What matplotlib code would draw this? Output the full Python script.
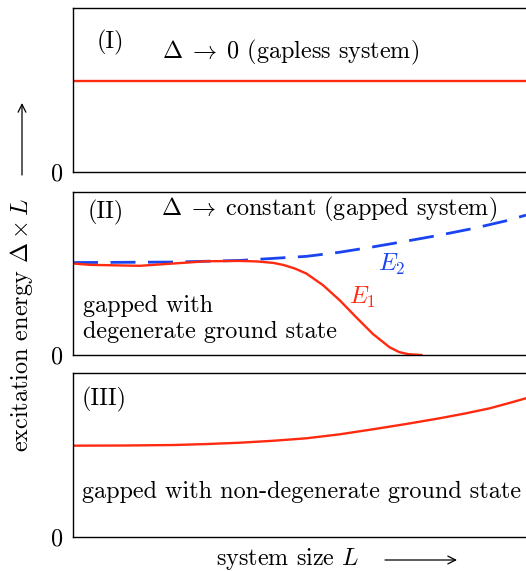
import matplotlib
matplotlib.use("Agg")
import matplotlib.pyplot as plt

plt.rcParams['font.family'] = 'serif'
plt.rcParams['font.serif'] = ['cmr10']
plt.rcParams['mathtext.fontset'] = 'cm'
plt.rcParams['axes.unicode_minus'] = False

# panel I: gapless, flat line
gapless_x = [0.0, 1.0]
gapless_y = [0.555, 0.555]

# panel II: E1 (drops to zero) and E2 (dashed, rises)
e1_x = [0.0, 0.037, 0.074, 0.147, 0.221, 0.294, 0.368, 0.405, 0.442, 0.465, 0.490, 0.515,
        0.552, 0.589, 0.625, 0.662, 0.699, 0.720, 0.740, 0.769]
e1_y = [0.561, 0.553, 0.551, 0.547, 0.561, 0.575, 0.577, 0.574, 0.565, 0.552, 0.530, 0.500,
        0.428, 0.335, 0.232, 0.129, 0.047, 0.018, 0.005, 0.0]
e2_x = [0.0, 0.221, 0.368, 0.515, 0.588, 0.662, 0.735, 0.809, 0.883, 0.956, 1.0]
e2_y = [0.567, 0.570, 0.580, 0.605, 0.630, 0.663, 0.698, 0.735, 0.776, 0.823, 0.858]

# panel III: non-degenerate gapped
nd_x = [0.0, 0.11, 0.221, 0.295, 0.368, 0.442, 0.515, 0.588, 0.662, 0.735, 0.809, 0.865, 0.920, 0.96, 1.0]
nd_y = [0.557, 0.558, 0.561, 0.567, 0.575, 0.587, 0.602, 0.626, 0.657, 0.689, 0.724, 0.753, 0.785, 0.815, 0.846]

red = '#ff2a10'
blue = '#1a44f0'
fs = 17.4

fig = plt.figure(figsize=(5.26, 5.71), dpi=100)
left, width = 73 / 526, 453 / 526
boxes = [(0.6988, 0.2872), (0.3783, 0.2855), (0.0595, 0.2872)]
axes = []
for b, h in boxes:
    ax = fig.add_axes([left, b, width, h])
    ax.set_xlim(0, 1)
    ax.set_ylim(0, 1)
    ax.set_xticks([])
    ax.set_yticks([0])
    ax.set_yticklabels(['0'], fontsize=fs)
    ax.tick_params(axis='y', length=0, pad=7)
    ax.spines['right'].set_visible(False)
    for s in ax.spines.values():
        s.set_linewidth(1.0)
    axes.append(ax)

ax1, ax2, ax3 = axes

ax1.plot(gapless_x, gapless_y, color=red, lw=1.7)
ax1.text(0.053, 0.79, '(I)', fontsize=fs, va='center', transform=ax1.transAxes)
ax1.text(0.197, 0.726, r'$\Delta \;\rightarrow\; 0$ (gapless system)', fontsize=fs, va='center',
         transform=ax1.transAxes)

ax2.plot(e2_x, e2_y, color=blue, lw=2.0, dashes=(9, 4.5))
ax2.plot(e1_x, e1_y, color=red, lw=1.7)
ax2.text(0.033, 0.877, '(II)', fontsize=fs, va='center', transform=ax2.transAxes)
ax2.text(0.195, 0.89, r'$\Delta \;\rightarrow\;$constant (gapped system)', fontsize=fs, va='center',
         transform=ax2.transAxes)
ax2.text(0.704, 0.558, r'$E_2$', fontsize=fs, color=blue, ha='center', va='center',
         transform=ax2.transAxes)
ax2.text(0.638, 0.35, r'$E_1$', fontsize=fs, color=red, ha='center', va='center',
         transform=ax2.transAxes)
ax2.text(0.022, 0.30, 'gapped with', fontsize=fs, va='center', transform=ax2.transAxes)
ax2.text(0.022, 0.141, 'degenerate ground state', fontsize=fs, va='center', transform=ax2.transAxes)

ax3.plot(nd_x, nd_y, color=red, lw=1.7)
ax3.text(0.018, 0.841, '(III)', fontsize=fs, va='center', transform=ax3.transAxes)
ax3.text(0.020, 0.274, 'gapped with non-degenerate ground state', fontsize=fs, va='center',
         transform=ax3.transAxes)

fig.text(22 / 526, 1 - 325 / 571, r'excitation energy $\Delta \times L$', rotation=90,
         fontsize=fs, ha='center', va='center')
fig.text(288 / 526, 1 - 559 / 571, r'system size $L$', fontsize=fs, ha='center', va='center')

arrow = dict(arrowstyle='->', lw=0.9, color='black', mutation_scale=14, shrinkA=0, shrinkB=0)
fig.add_artist(matplotlib.patches.FancyArrowPatch((22 / 526, 1 - 175 / 571), (22 / 526, 1 - 103 / 571),
                                                  transform=fig.transFigure, **arrow))
fig.add_artist(matplotlib.patches.FancyArrowPatch((385 / 526, 1 - 560 / 571), (457 / 526, 1 - 560 / 571),
                                                  transform=fig.transFigure, **arrow))

fig.savefig('out.png', dpi=100)
